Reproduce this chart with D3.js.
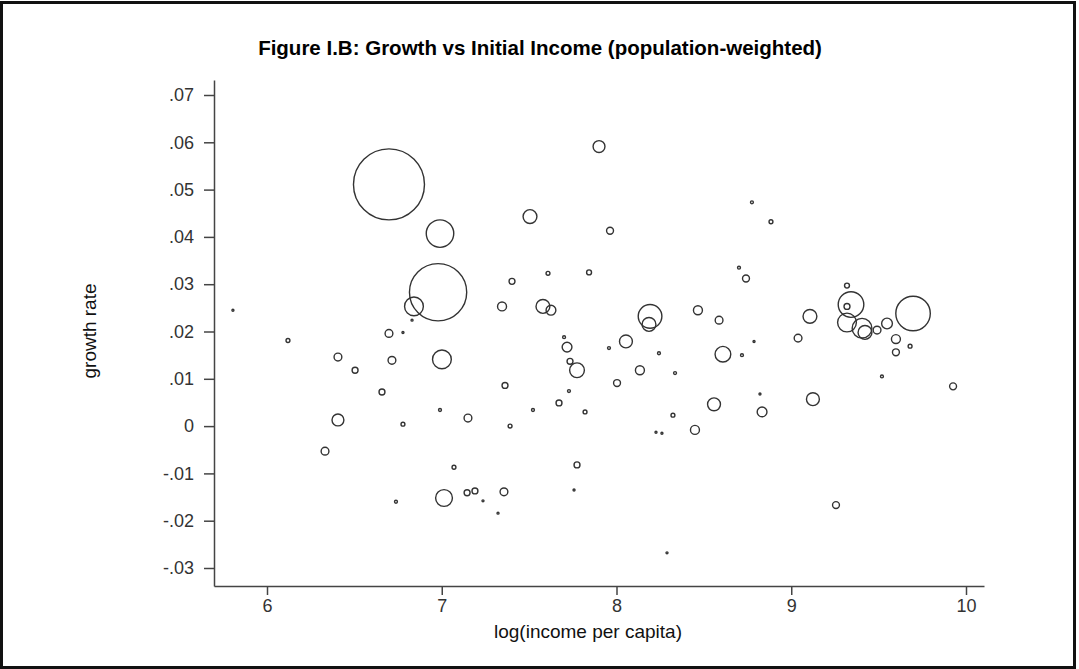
<!DOCTYPE html>
<html>
<head>
<meta charset="utf-8">
<script src="https://cdn.jsdelivr.net/npm/d3@7"></script>
<style>
	body { margin: 0; background: #fff; }
	svg { display: block; font-family: Arial, "Liberation Sans", sans-serif; }
	.tick text { fill: #333; font-size: 18px; }
	.domain, .tick line { stroke: #444; stroke-width: 1.5; }
</style>
</head>
<body>
<svg id="chart" width="1079" height="669"></svg>
<script>
// log income per capita
let income = [6.698, 6.990, 7.900, 7.505, 7.963, 8.775, 8.884, 8.701, 6.979, 6.841,
	6.830, 5.805, 6.120, 6.698, 6.778, 6.406, 6.715, 7.001, 6.504, 6.658,
	6.990, 6.778, 6.406, 7.150, 6.332, 7.608, 7.843, 7.402, 7.345, 7.579,
	7.625, 8.192, 8.186, 8.466, 8.587, 7.700, 7.717, 7.957, 8.054, 8.243,
	7.734, 7.774, 8.134, 8.335, 8.609, 7.362, 8.003, 7.728, 7.671, 7.522,
	7.820, 7.391, 8.323, 8.226, 8.260, 8.449, 8.558, 8.741, 9.319, 9.342,
	9.319, 9.697, 9.107, 9.319, 9.405, 9.422, 9.491, 9.548, 9.599, 9.599,
	9.680, 9.039, 8.787, 8.718, 9.519, 9.926, 9.124, 8.833, 8.821, 7.070,
	7.013, 7.145, 6.738, 7.190, 7.236, 7.356, 7.322, 7.774, 7.757, 8.289,
	9.256]

// growth rate
let growth = [.0511, .0407, .0591, .0443, .0413, .0473, .0432, .0335, .0283, .0253,
	.0224, .0245, .0181, .0196, .0198, .0146, .0139, .0141, .0118, .0072,
	.0034, .0004, .0013, .0017, -.0053, .0323, .0325, .0306, .0253, .0253,
	.0245, .0232, .0215, .0245, .0224, .0188, .0167, .0165, .0179, .0154,
	.0137, .0118, .0118, .0112, .0152, .0086, .0091, .0074, .0049, .0034,
	.0030, .0000, .0023, -.0013, -.0015, -.0008, .0046, .0312, .0297, .0257,
	.0253, .0238, .0232, .0219, .0207, .0198, .0203, .0217, .0184, .0156,
	.0169, .0186, .0179, .0150, .0105, .0084, .0057, .0030, .0068, -.0087,
	-.0152, -.0141, -.0160, -.0137, -.0158, -.0139, -.0184, -.0082, -.0135, -.0268,
	-.0167]

// population weight (millions, approx)
let population = [1000, 150, 28, 38, 9.5, 1.7, 3, 1.7, 650, 70,
	0.8, 0.8, 3, 12, 0.8, 12, 12, 70, 7, 7,
	1.7, 3, 28, 12, 12, 3, 4.8, 7, 16, 38,
	19, 111, 38, 16, 12, 1.7, 19, 1.7, 33, 1.7,
	7, 43, 16, 1.7, 49, 7, 9.5, 1.7, 7, 1.7,
	3, 3, 3, 0.8, 0.8, 16, 33, 9.5, 4.8, 130,
	7, 236, 38, 70, 77, 38, 12, 23, 16, 9.5,
	3, 12, 0.8, 1.7, 1.7, 9.5, 33, 19, 0.8, 3,
	56, 7, 1.7, 7, 0.8, 12, 0.8, 7, 0.8, 0.8,
	9.5]

let xTicks = [6, 7, 8, 9, 10]
let yTicks = [-.03, -.02, -.01, 0, .01, .02, .03, .04, .05, .06, .07]

let svg = d3.select('#chart')

let x = d3.scaleLinear().domain([6, 10]).range([267, 966])
let y = d3.scaleLinear().domain([-.03, .07]).range([568, 95])
let r = d3.scaleSqrt().domain([0, 1000]).range([0, 35.5])

let xMin = x.invert(214), xMax = x.invert(984)
let yMax = y.invert(80), yMin = y.invert(586)

// outer frame
svg.append('rect')
	.attr('x', 1.5).attr('y', 2.5)
	.attr('width', 1073).attr('height', 665)
	.attr('fill', 'none').attr('stroke', '#111').attr('stroke-width', 3)

svg.append('text')
	.attr('x', 540).attr('y', 55)
	.attr('text-anchor', 'middle')
	.style('font-weight', 'bold').style('font-size', '20.5px')
	.text('Figure I.B: Growth vs Initial Income (population-weighted)')

// stata style: ".07", "-.03", "0" with a plain hyphen
let fmt = d => d === 0 ? '0' : d3.format('.2f')(d).replace('\u2212', '-').replace('0.', '.')

let xs = x.copy().domain([xMin, xMax]).range([x(xMin), x(xMax)])
let ys = y.copy().domain([yMin, yMax]).range([y(yMin), y(yMax)])

svg.append('g')
	.attr('transform', 'translate(0,' + y(yMin) + ')')
	.call(d3.axisBottom(xs).tickValues(xTicks).tickSize(9).tickPadding(4).tickSizeOuter(0).tickFormat(d3.format('d')))

svg.append('g')
	.attr('transform', 'translate(' + x(xMin) + ',0)')
	.call(d3.axisLeft(ys).tickValues(yTicks).tickSize(10).tickPadding(10).tickSizeOuter(0).tickFormat(fmt))

svg.append('text')
	.attr('x', 588).attr('y', 638)
	.attr('text-anchor', 'middle')
	.style('font-size', '19px').style('fill', '#111')
	.text('log(income per capita)')

svg.append('text')
	.attr('transform', 'translate(96,331) rotate(-90)')
	.attr('text-anchor', 'middle')
	.style('font-size', '19px').style('fill', '#111')
	.text('growth rate')

let data = income.map((v, i) => ({ inc: v, g: growth[i], pop: population[i] }))
	.sort((a, b) => d3.descending(a.pop, b.pop))

svg.append('g').selectAll('circle').data(data).enter().append('circle')
	.attr('cx', d => x(d.inc))
	.attr('cy', d => y(d.g))
	.attr('r', d => Math.max(r(d.pop), 0.9))
	.attr('fill', 'none')
	.attr('stroke', '#333')
	.attr('stroke-width', 1.4)
</script>
</body>
</html>
